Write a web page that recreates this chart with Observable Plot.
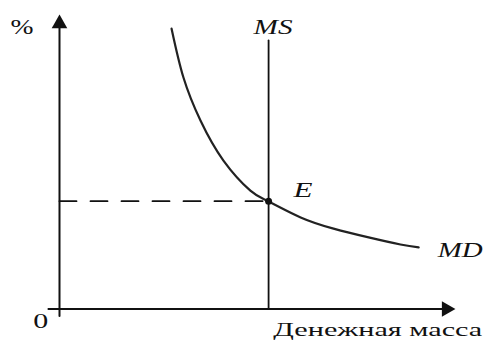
<!DOCTYPE html>
<html>
<head>
<meta charset="utf-8">
<script src="https://cdn.jsdelivr.net/npm/d3@7"></script>
<script src="https://cdn.jsdelivr.net/npm/@observablehq/plot@0.6"></script>
<style>
  html, body { margin: 0; padding: 0; background: #fff; }
  #chart { width: 485px; height: 342px; }
</style>
</head>
<body>
<div id="chart"></div>
<script>
// Money demand curve MD (quantity of money, interest rate %)
const mdQ = [28.3, 31.3, 35.6, 41.4, 48.2, 52.8, 60.9, 69.2, 77.8, 86.1, 90.7];
const mdR = [95.2, 78.6, 64.0, 50.4, 40.2, 36.5, 31.1, 27.3, 24.4, 21.9, 20.9];

// Money supply MS (vertical) and equilibrium E
const msQ = 52.8;
const msTop = 91.2;
const eQ = 52.8;
const eR = 36.6;

// Axis extents
const axisQ = [-2.8, 97];
const axisR = [-2.4, 97];
const arrowQ = 97.7;
const arrowR = 96.9;

// Labels
const labelText = ["%", "0", "MS", "E", "MD", "Денежная масса"];
const labelQ = [-12.4, -6.6, 49.0, 59.1, 95.5, 54.0];
const labelR = [93.5, -6.3, 93.5, 38.2, 17.5, -9.3];
const labelItalic = [false, false, true, true, true, false];
const labelSize = [20, 21, 22, 21, 22, 19];
const labelWidth = [23, 15, 39, 19, 45, 209];

const md = mdQ.map((q, i) => ({q, r: mdR[i]}));
const labels = labelText.map((t, i) => ({t, q: labelQ[i], r: labelR[i], it: labelItalic[i], fs: labelSize[i]}));
const font = "Liberation Serif";

const textMarks = labels.map(d => Plot.text([d], {
  x: "q", y: "r", text: "t",
  textAnchor: "start", lineAnchor: "bottom",
  fontSize: d.fs, fontStyle: d.it ? "italic" : "normal",
  fontFamily: font, fill: "#111"
}));

const svg = Plot.plot({
  width: 485,
  height: 342,
  margin: 0,
  style: {background: "#fff", overflow: "visible"},
  x: {domain: [0, 100], range: [59, 455], axis: null},
  y: {domain: [0, 100], range: [308.5, 14], axis: null},
  marks: [
    // axes
    Plot.line([[0, axisR[0]], [0, axisR[1]]], {stroke: "#111", strokeWidth: 2}),
    Plot.line([[axisQ[0], 0], [axisQ[1], 0]], {stroke: "#111", strokeWidth: 2}),
    Plot.dot([[0, arrowR]], {symbol: "triangle", r: 5.8, fill: "#111", stroke: "none"}),
    Plot.dot([[arrowQ, 0]], {symbol: "triangle", r: 5.8, fill: "#111", stroke: "none", rotate: 90}),
    // dashed guide
    Plot.line([[0, eR], [eQ, eR]], {stroke: "#111", strokeWidth: 1.8, strokeDasharray: "17,14"}),
    // MS
    Plot.line([[msQ, 0], [msQ, msTop]], {stroke: "#111", strokeWidth: 1.8}),
    // MD
    Plot.line(md, {x: "q", y: "r", curve: "natural", stroke: "#222", strokeWidth: 2.2}),
    // E point
    Plot.dot([[eQ, eR]], {r: 3.5, fill: "#111", stroke: "none"}),
    ...textMarks
  ]
});

document.getElementById("chart").appendChild(svg);

// stretch labels horizontally (the reference glyphs are wide)
d3.select(svg).selectAll("text").each(function() {
  const i = labelText.indexOf(this.textContent);
  if (i < 0) return;
  const w = this.getComputedTextLength();
  if (!w) return;
  const s = labelWidth[i] / w;
  const X = +this.getAttribute("x") || 0;
  const existing = this.getAttribute("transform") || "";
  this.setAttribute("transform", `${existing} translate(${X},0) scale(${s},1) translate(${-X},0)`);
});
</script>
</body>
</html>
